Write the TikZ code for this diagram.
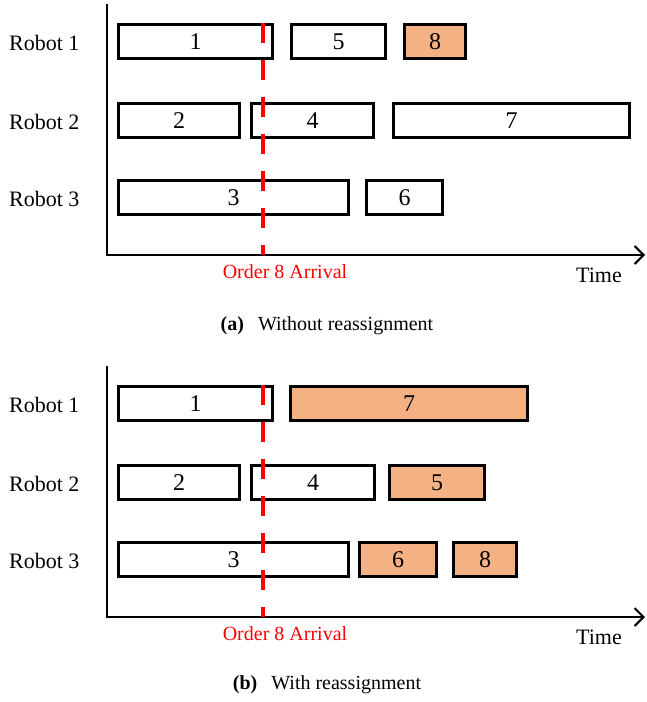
\documentclass[tikz,border=0pt]{standalone}
\usepackage{fontspec}
\setmainfont{Liberation Serif}
\usetikzlibrary{arrows.meta}
\definecolor{moved}{HTML}{F4B183}
\tikzset{%
  job/.style={draw,line width=3pt,inner sep=0pt,minimum height=34pt,font=\fontsize{24}{26}\selectfont},
  movedjob/.style={job,fill=moved},
  robotlbl/.style={anchor=west,inner sep=0pt,font=\fontsize{22}{24}\selectfont},
  axis/.style={line width=2.5pt,-{Straight Barb[length=9pt,width=18pt,line width=2pt]}},
  arrival/.style={draw=red,line width=3.5pt,dash pattern=on 20pt off 17pt},
  axlbl/.style={inner sep=0pt,font=\fontsize{20}{24}\selectfont}
}
% job box from x=#3 to x=#4 on row height #5
\newcommand{\jobbox}[6][job]{%
  \node[#1,minimum width={(#4-#3-3)*1pt}] (#2) at ({(#3+#4)/2},#5) {#6};}

\begin{document}
\begin{tikzpicture}[x=1pt,y=-1pt]
  \useasboundingbox (0,0) rectangle (646,702);
  % (a) without reassignment
  \begin{scope}
    \foreach \r/\y in {1/43,2/122,3/199}
      \node[robotlbl] (ra\r) at (9,\y) {Robot \r};
    \coordinate (atop) at (107,4);
    \coordinate (aorig) at (107,255);
    \coordinate (aend) at (645,255);
    \draw[axis] (atop) -- (aorig) -- (aend);
    \jobbox{a1}{117}{274}{41.5}{1}
    \jobbox{a5}{290}{387}{41.5}{5}
    \jobbox[movedjob]{a8}{403}{467}{41.5}{8}
    \jobbox{a2}{117}{241}{120.5}{2}
    \jobbox{a4}{250}{375}{120.5}{4}
    \jobbox{a7}{392}{631}{120.5}{7}
    \jobbox{a3}{117}{350}{197.5}{3}
    \jobbox{a6}{365}{444}{197.5}{6}
    \coordinate (aarr) at (263,23);
    \coordinate (aarrb) at (263,255);
    \draw[arrival] (aarr) -- (aarrb);
    \node[axlbl,text=red] (aorder) at (285,272) {Order 8 Arrival};
    \node[axlbl,font=\fontsize{22}{24}\selectfont] (atime) at (599,275) {Time};
    \node[axlbl] (acap) at (327,326) {\textbf{(a)}\hspace{14pt}Without reassignment};
  \end{scope}
  % (b) with reassignment
  \begin{scope}[shift={(0,362)}]
    \foreach \r/\y in {1/43,2/122,3/199}
      \node[robotlbl] (rb\r) at (9,\y) {Robot \r};
    \coordinate (btop) at (107,4);
    \coordinate (borig) at (107,255);
    \coordinate (bend) at (645,255);
    \draw[axis] (btop) -- (borig) -- (bend);
    \jobbox{b1}{117}{274}{41.5}{1}
    \jobbox[movedjob]{b7}{289}{529}{41.5}{7}
    \jobbox{b2}{117}{241}{120.5}{2}
    \jobbox{b4}{250}{376}{120.5}{4}
    \jobbox[movedjob]{b5}{388}{486}{120.5}{5}
    \jobbox{b3}{117}{350}{197.5}{3}
    \jobbox[movedjob]{b6}{358}{438}{197.5}{6}
    \jobbox[movedjob]{b8}{452}{518}{197.5}{8}
    \coordinate (barr) at (263,23);
    \coordinate (barrb) at (263,255);
    \draw[arrival] (barr) -- (barrb);
    \node[axlbl,text=red] (border) at (285,272) {Order 8 Arrival};
    \node[axlbl,font=\fontsize{22}{24}\selectfont] (btime) at (599,275) {Time};
    \node[axlbl] (bcap) at (327,323) {\textbf{(b)}\hspace{14pt}With reassignment};
  \end{scope}
\end{tikzpicture}
\end{document}
